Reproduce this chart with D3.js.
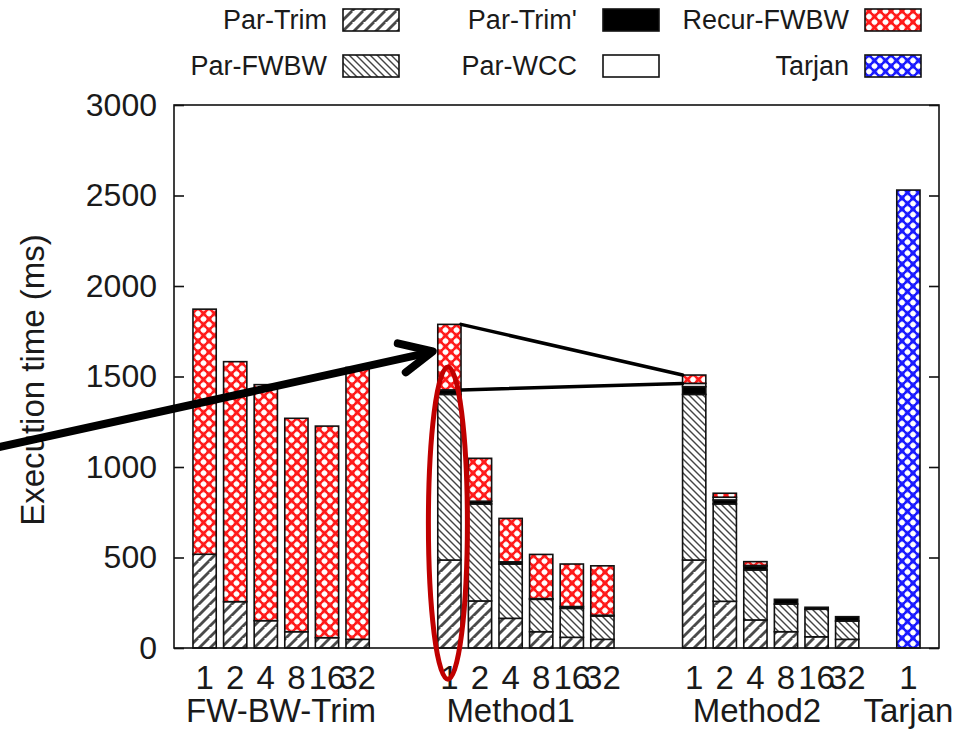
<!DOCTYPE html>
<html>
<head>
<meta charset="utf-8">
<script src="https://cdn.jsdelivr.net/npm/d3@7"></script>
<style>
  html, body { margin: 0; padding: 0; background: #fff; }
  svg { display: block; }
  text { font-family: "Liberation Sans", Arial, sans-serif; fill: #1a1a1a; }
</style>
</head>
<body>
<svg id="chart" width="965" height="729"></svg>
<script>
// ---------------- data ----------------
const threads = ["1", "2", "4", "8", "16", "32"];
const groups = ["FW-BW-Trim", "Method1", "Method2"];
const groupStartSlot = [1, 9, 17];
const groupLabelSlot = [3.5, 11.0, 19.05];
const tarjanSlot = 24;
const tarjanLabel = "Tarjan";
const tarjanValue = [2530];
const seriesNames = ["Par-Trim", "Par-FWBW", "Par-Trim'", "Par-WCC", "Recur-FWBW", "Tarjan"];
// values for the 18 stacked bars: FW-BW-Trim x6, Method1 x6, Method2 x6 (ms)
const parTrim   = [518, 256, 151, 90, 57, 48,   486, 260, 164, 90, 59, 48,   486, 258, 155, 90, 62, 48];
const parFWBW   = [0, 0, 0, 0, 0, 0,            915, 536, 300, 179, 160, 129, 915, 538, 276, 153, 152, 101];
const parTrimP  = [0, 0, 0, 0, 0, 0,            25, 15, 12, 4, 10, 4,        43, 22, 22, 26, 11, 24];
const parWCC    = [0, 0, 0, 0, 0, 0,            0, 0, 0, 0, 0, 0,            18, 15, 3, 0, 0, 0];
const recurFWBW = [1354, 1326, 1304, 1179, 1169, 1502, 362, 237, 240, 244, 235, 273, 46, 22, 21, 0, 0, 0];
const yTicks = [0, 500, 1000, 1500, 2000, 2500, 3000];

// ---------------- layout ----------------
const svg = d3.select("#chart");
const plot = { left: 174, right: 939, top: 105, bottom: 648 };
const x = d3.scaleLinear().domain([0, 25]).range([plot.left, plot.right]);
const y = d3.scaleLinear().domain([0, 3000]).range([plot.bottom, plot.top]);
const barW = (x(1) - x(0)) * 0.76;

// ---------------- patterns ----------------
const defs = svg.append("defs");
function hatch(id, size, dir, color, sw) {
  const p = defs.append("pattern").attr("id", id).attr("patternUnits", "userSpaceOnUse")
    .attr("width", size).attr("height", size);
  p.append("rect").attr("width", size).attr("height", size).attr("fill", "#fff");
  const s = size;
  const segs = dir === "/" ?
    [[0, s, s, 0], [-s, s, s * 0, 0 ], [0, 2 * s, 2 * s, 0]] :
    [[0, 0, s, s], [-s, 0, s, 2 * s], [0, -s, 2 * s, s]];
  segs.forEach(d => p.append("line").attr("x1", d[0]).attr("y1", d[1]).attr("x2", d[2]).attr("y2", d[3])
    .attr("stroke", color).attr("stroke-width", sw));
}
hatch("pTrim", 11, "/", "#4a4a4a", 2.8);
hatch("pFWBW", 7, "\\", "#444", 1.4);
function cross(id, color, soft) {
  const s = 11;
  const p = defs.append("pattern").attr("id", id).attr("patternUnits", "userSpaceOnUse")
    .attr("width", s).attr("height", s);
  p.append("rect").attr("width", s).attr("height", s).attr("fill", soft);
  [[0, 0, s, s], [s, 0, 0, s]].forEach(d => p.append("line")
    .attr("x1", d[0]).attr("y1", d[1]).attr("x2", d[2]).attr("y2", d[3])
    .attr("stroke", color).attr("stroke-width", 2.6));
  [[s / 2, 0], [0, s / 2], [s, s / 2], [s / 2, s]].forEach(c => p.append("circle")
    .attr("cx", c[0]).attr("cy", c[1]).attr("r", 2.6).attr("fill", "#fff"));
}
cross("pRecur", "#ff1a1a", "#ff9c9c");
cross("pTarjan", "#1a1aff", "#9c9cff");

const fills = {
  "Par-Trim": "url(#pTrim)", "Par-FWBW": "url(#pFWBW)", "Par-Trim'": "#000",
  "Par-WCC": "#fff", "Recur-FWBW": "url(#pRecur)", "Tarjan": "url(#pTarjan)"
};

// ---------------- bars ----------------
const table = [];
groups.forEach((g, gi) => threads.forEach((t, ti) => {
  const k = gi * 6 + ti;
  table.push({ slot: groupStartSlot[gi] + ti, thread: t,
    "Par-Trim": parTrim[k], "Par-FWBW": parFWBW[k], "Par-Trim'": parTrimP[k],
    "Par-WCC": parWCC[k], "Recur-FWBW": recurFWBW[k], "Tarjan": 0 });
}));
table.push({ slot: tarjanSlot, thread: "1", "Par-Trim": 0, "Par-FWBW": 0, "Par-Trim'": 0,
  "Par-WCC": 0, "Recur-FWBW": 0, "Tarjan": tarjanValue[0] });

const stack = d3.stack().keys(seriesNames)(table);
const barsG = svg.append("g");
stack.forEach(layer => {
  barsG.append("g").selectAll("rect").data(layer.filter(d => d[1] - d[0] > 0)).join("rect")
    .attr("x", d => x(d.data.slot) - barW / 2)
    .attr("width", barW)
    .attr("y", d => y(d[1]))
    .attr("height", d => y(d[0]) - y(d[1]))
    .attr("fill", fills[layer.key])
    .attr("stroke", "#111").attr("stroke-width", 1.6);
});

// ---------------- axes ----------------
svg.append("rect").attr("x", plot.left).attr("y", plot.top)
  .attr("width", plot.right - plot.left).attr("height", plot.bottom - plot.top)
  .attr("fill", "none").attr("stroke", "#111").attr("stroke-width", 1.6);
const yAxisL = d3.axisLeft(y).tickValues(yTicks).tickSize(-10).tickPadding(17)
  .tickFormat(d3.format("d"));
const gL = svg.append("g").attr("transform", `translate(${plot.left},0)`).call(yAxisL);
gL.select(".domain").remove();
gL.selectAll("line").attr("stroke", "#111").attr("stroke-width", 1.6);
gL.selectAll("text").style("font-size", "32px").attr("fill", "#1a1a1a")
  .style("font-family", '"Liberation Sans", Arial, sans-serif');
const yAxisR = d3.axisRight(y).tickValues(yTicks).tickSize(-10).tickFormat("");
const gR = svg.append("g").attr("transform", `translate(${plot.right},0)`).call(yAxisR);
gR.select(".domain").remove();
gR.selectAll("line").attr("stroke", "#111").attr("stroke-width", 1.6);

// x tick labels
svg.append("g").selectAll("text").data(table).join("text")
  .attr("x", d => x(d.slot)).attr("y", 689)
  .attr("text-anchor", "middle").style("font-size", "33px").text(d => d.thread);
// group labels
svg.append("g").selectAll("text").data(groups.concat([tarjanLabel])).join("text")
  .attr("x", (d, i) => x(i < 3 ? groupLabelSlot[i] : tarjanSlot)).attr("y", 722)
  .attr("text-anchor", "middle").style("font-size", "33px").text(d => d);

// y label
svg.append("text").attr("transform", `translate(44,380) rotate(-90)`)
  .attr("text-anchor", "middle").style("font-size", "33px").text("Execution time (ms)");

// ---------------- legend ----------------
const legCols = [{ tx: 327, sx: 343 }, { tx: 577, sx: 603 }, { tx: 849, sx: 865 }];
const legRows = [{ ty: 29, sy: 9 }, { ty: 75, sy: 55 }];
const legOrder = [[0, 0], [0, 1], [1, 0], [1, 1], [2, 0], [2, 1]]; // [col,row] per series
const legG = svg.append("g");
seriesNames.forEach((name, i) => {
  const c = legCols[legOrder[i][0]], r = legRows[legOrder[i][1]];
  legG.append("text").attr("x", c.tx).attr("y", r.ty).attr("text-anchor", "end")
    .style("font-size", "27px").text(name);
  legG.append("rect").attr("x", c.sx).attr("y", r.sy).attr("width", 56).attr("height", 22)
    .attr("fill", fills[name]).attr("stroke", "#111").attr("stroke-width", 1.6);
});

// ---------------- annotations ----------------
const m1 = table[6], m2 = table[12];
const m1Top = y(d3.sum(seriesNames, k => m1[k]));
const m2Top = y(d3.sum(seriesNames, k => m2[k]));
const m1Mid = y(m1["Par-Trim"] + m1["Par-FWBW"] + m1["Par-Trim'"] + m1["Par-WCC"]);
const m2Mid = y(m2["Par-Trim"] + m2["Par-FWBW"] + m2["Par-Trim'"] + m2["Par-WCC"]);
const ann = svg.append("g").attr("stroke", "#000").attr("fill", "none")
  .attr("stroke-linecap", "round").attr("stroke-linejoin", "round");
ann.append("line").attr("x1", x(m1.slot) + barW / 2).attr("y1", m1Top)
  .attr("x2", x(m2.slot) - barW / 2).attr("y2", m2Top).attr("stroke-width", 3.5);
ann.append("line").attr("x1", x(m1.slot) + barW / 2).attr("y1", m1Mid)
  .attr("x2", x(m2.slot) - barW / 2).attr("y2", m2Mid).attr("stroke-width", 3.5);
// big arrow
const tip = [x(m1.slot) - barW / 2 - 5, m1Top + 27];
ann.append("line").attr("x1", -10).attr("y1", 449).attr("x2", tip[0] - 3).attr("y2", tip[1] + 1)
  .attr("stroke-width", 8);
ann.append("path").attr("d", `M${tip[0] - 35},${tip[1] - 8} L${tip[0]},${tip[1]} L${tip[0] - 27},${tip[1] + 21}`)
  .attr("stroke-width", 8);
// red ellipse
ann.append("ellipse").attr("cx", x(m1.slot) - 1.5).attr("cy", y(690))
  .attr("rx", 19.5).attr("ry", y(0) - y(862)).attr("stroke", "#c00000").attr("stroke-width", 5);
</script>
</body>
</html>
